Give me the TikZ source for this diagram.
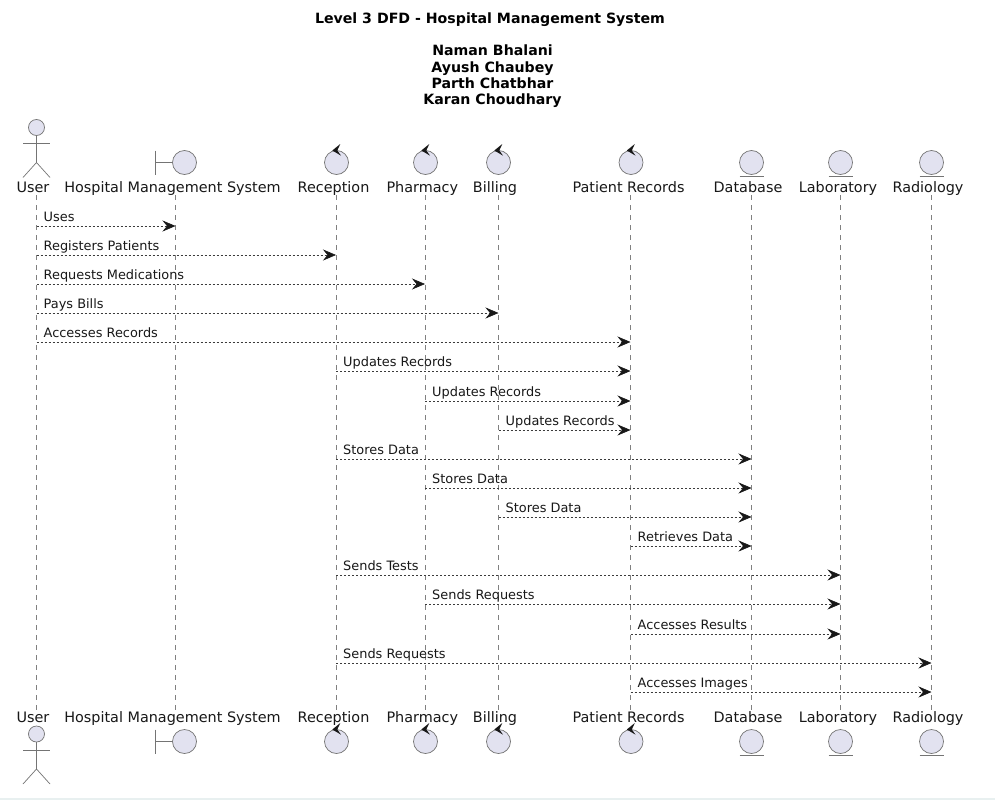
\documentclass[tikz,border=0pt]{standalone}
\usepackage{fontspec}
\setmainfont{DejaVu Sans}
\usetikzlibrary{arrows.meta}
\definecolor{partfill}{HTML}{E2E2F0}
\definecolor{ink}{HTML}{181818}
\definecolor{strip}{HTML}{E8F0F0}
\tikzset{
  x=1pt,y=-1pt,
  icon/.style={draw=ink!60,line width=.7pt,fill=partfill},
  iconline/.style={draw=ink!60,line width=.7pt},
  lifeline/.style={draw=ink!55,line width=.6pt,dash pattern=on 5pt off 5pt},
  msg/.style={draw=ink!85,line width=.6pt,dash pattern=on 2pt off 2pt,-{Stealth[length=13pt,width=11pt,inset=4.5pt,color=ink]}},
  msgtext/.style={anchor=base west,inner sep=0pt,text=ink,font=\fontsize{12.9}{15}\selectfont},
  parttext/.style={anchor=base,inner sep=0pt,text=ink,font=\fontsize{14.4}{16}\selectfont},
  titletext/.style={anchor=base,inner sep=0pt,text=black,font=\fontsize{14.15}{16}\selectfont\bfseries},
}
\newcommand{\ctrlicon}[2]{%
  \draw[icon] (#1,#2) circle[radius=12];
  \fill[ink] (#1-4.2,#2-12) -- (#1+3.8,#2-18.5) -- (#1+0.8,#2-12) -- (#1+4.6,#2-6.8) -- cycle;
}
\newcommand{\entityicon}[3]{%
  \draw[icon] (#1,#2) circle[radius=12];
  \draw[iconline] (#1-12,#3) -- (#1+12,#3);
}
\newcommand{\boundaryicon}[2]{%
  \draw[iconline] (#1-29,#2-12) -- (#1-29,#2+12);
  \draw[iconline] (#1-29,#2) -- (#1-12,#2);
  \draw[icon] (#1,#2) circle[radius=12];
}
\newcommand{\actoricon}[2]{%
  \draw[icon] (#1,#2) circle[radius=8];
  \draw[iconline] (#1,#2+8) -- (#1,#2+35);
  \draw[iconline] (#1-13.5,#2+16) -- (#1+13.5,#2+16);
  \draw[iconline] (#1-13.5,#2+50) -- (#1,#2+35) -- (#1+13.5,#2+50);
}
\begin{document}
\begin{tikzpicture}
\useasboundingbox (0,0) rectangle (995,800);
\fill[white] (0,0) rectangle (995,800);
\fill[strip] (0,798) rectangle (995,800);

% title
\node[titletext] (t1) at (490,23.5) {Level 3 DFD - Hospital Management System};
\node[titletext] (t2) at (492.5,56) {Naman Bhalani};
\node[titletext] (t3) at (492.5,72) {Ayush Chaubey};
\node[titletext] (t4) at (492.5,88) {Parth Chatbhar};
\node[titletext] (t5) at (492.5,104) {Karan Choudhary};

% lifeline ends
\foreach \n/\x in {U/36.5,H/175.5,Re/336,Ph/425,Bi/498.5,PR/630.5,Db/751.5,La/840.5,Ra/931.5}{
  \coordinate (\n) at (\x,195);
  \coordinate (\n e) at (\x,710);
  \draw[lifeline] (\n) -- (\n e);
}

% participant labels, top and bottom
\foreach \n/\x/\t in {U/33/User,H/172.5/Hospital Management System,Re/333.5/Reception,Ph/422.3/Pharmacy,Bi/495/Billing,PR/628.5/Patient Records,Db/748/Database,La/838/Laboratory,Ra/928/Radiology}{
  \node[parttext] (\n top) at (\x,192) {\t};
  \node[parttext] (\n bot) at (\x,722) {\t};
}

% icons, top
\actoricon{36.5}{127.5}
\boundaryicon{184.5}{162.5}
\ctrlicon{336.5}{162.5}
\ctrlicon{425.5}{162.5}
\ctrlicon{498.5}{162.5}
\ctrlicon{631}{162.5}
\entityicon{751.5}{162.5}{176}
\entityicon{840.5}{162.5}{176}
\entityicon{931.5}{162.5}{176}
% icons, bottom
\actoricon{36.5}{734}
\boundaryicon{184.5}{741.5}
\ctrlicon{336.5}{741.5}
\ctrlicon{425.5}{741.5}
\ctrlicon{498.5}{741.5}
\ctrlicon{631}{741.5}
\entityicon{751.5}{741.5}{755.5}
\entityicon{840.5}{741.5}{755.5}
\entityicon{931.5}{741.5}{755.5}

% messages
\foreach \a/\b/\y/\t [count=\i] in {
  U/H/226/Uses,
  U/Re/255/Registers Patients,
  U/Ph/284/Requests Medications,
  U/Bi/313/Pays Bills,
  U/PR/342/Accesses Records,
  Re/PR/371/Updates Records,
  Ph/PR/401/Updates Records,
  Bi/PR/430/Updates Records,
  Re/Db/459/Stores Data,
  Ph/Db/488/Stores Data,
  Bi/Db/517/Stores Data,
  PR/Db/546/Retrieves Data,
  Re/La/575/Sends Tests,
  Ph/La/604/Sends Requests,
  PR/La/634/Accesses Results,
  Re/Ra/663/Sends Requests,
  PR/Ra/692/Accesses Images}{
  \coordinate (row\i) at (0,\y);
  \draw[msg] (\a |- row\i) -- (\b |- row\i);
  \node[msgtext] (msg\i) at ([xshift=7pt,yshift=4.4pt]\a |- row\i) {\t};
}
\end{tikzpicture}
\end{document}
